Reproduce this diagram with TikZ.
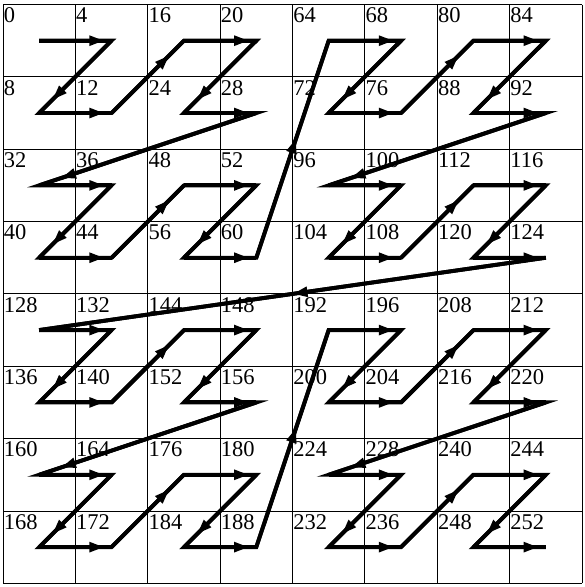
\documentclass[tikz,border=0pt]{standalone}
\usepackage{fontspec}
\setmainfont{Liberation Serif}
\usetikzlibrary{arrows.meta,decorations.markings}
\begin{document}
\begin{tikzpicture}[x=1pt,y=-1pt,
  gridline/.style={line width=0.9pt, black},
  zpath/.style={line width=3.9pt, black, line join=miter, line cap=butt},
  lbl/.style={anchor=base west, inner sep=0pt, font=\fontsize{22.5}{22.5}\selectfont},
  arrowat/.style={postaction={decorate}, decoration={markings, mark=at position #1 with {\arrow{Triangle[length=15pt,width=9.5pt]}}}}]
\useasboundingbox (0,0) rectangle (585,587);
% grid
\foreach \i in {0,...,8} {
  \draw[gridline] ({3+72.375*\i},4.5) -- ({3+72.375*\i},583.3);
  \draw[gridline] (3,{4.5+72.35*\i}) -- (582,{4.5+72.35*\i});
}
% cells: centres and labels in Morton order
\foreach \k in {0,...,63} {
  \pgfmathtruncatemacro\cc{mod(\k,2)+2*mod(floor(\k/4),2)+4*mod(floor(\k/16),2)}
  \pgfmathtruncatemacro\rr{mod(floor(\k/2),2)+2*mod(floor(\k/8),2)+4*mod(floor(\k/32),2)}
  \pgfmathtruncatemacro\lab{4*\k}
  \coordinate (p\k) at ({3+72.375*(\cc+0.5)},{4.5+72.35*(\rr+0.5)});
  \node[lbl] (l\k) at ({3.6+72.375*\cc},{22.7+72.35*\rr}) {\lab};
}
% the Z-order path
\draw[zpath] (p0) \foreach \k in {1,...,63} { -- (p\k) };
\foreach \k in {0,...,62} {
  \pgfmathtruncatemacro\kk{\k+1}
  \pgfmathsetmacro\pos{\k==31 ? 0.5 : (mod(\k,2)==0 ? 0.9 : (mod(\k,4)==1 ? 0.82 : (mod(\k+1,16)==0 ? 0.55 : (mod(\k+1,16)==8 ? 0.9 : 0.8))))}
  \draw[zpath, arrowat=\pos] (p\k) -- (p\kk);
}
\end{tikzpicture}
\end{document}
